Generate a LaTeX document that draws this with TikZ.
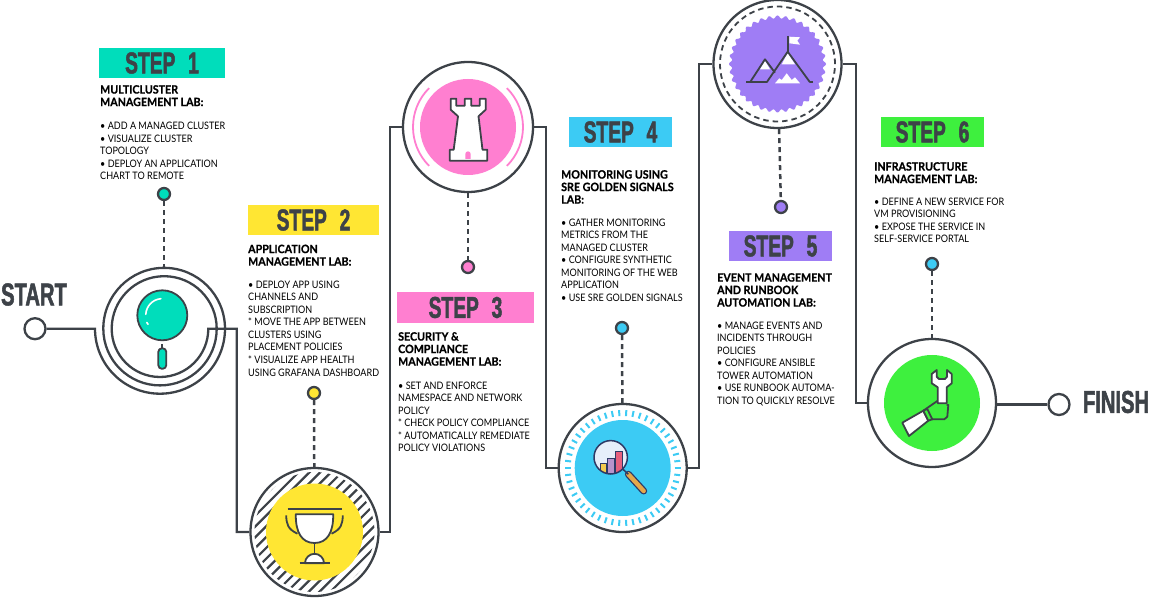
\documentclass[tikz,border=0pt]{standalone}
\usepackage{fontspec}
\setmainfont{Lato}
\newfontfamily\headfont[FakeStretch=0.64,WordSpace=2.4,BoldFeatures={FakeBold=1.6}]{Liberation Sans}
\newfontfamily\bodyfont[FakeStretch=0.88]{Lato}
\newfontfamily\labfont[FakeStretch=0.93,BoldFeatures={FakeBold=0.7}]{Lato}
\definecolor{ink}{HTML}{3D4248}
\definecolor{tealc}{HTML}{00DDBB}
\definecolor{yellowc}{HTML}{FFE633}
\definecolor{pinkc}{HTML}{FF7FD0}
\definecolor{cyanc}{HTML}{3CCBF4}
\definecolor{purplec}{HTML}{9F7DF5}
\definecolor{greenc}{HTML}{3EF03E}
\definecolor{navyc}{HTML}{2E3A66}
\definecolor{glassc}{HTML}{E6EEFA}
\definecolor{barone}{HTML}{F3CB4F}
\definecolor{bartwo}{HTML}{B893CC}
\definecolor{barthree}{HTML}{E65F7E}
\definecolor{grip}{HTML}{E5A84B}
\tikzset{
	route/.style={ink, line width=2.3pt},
	dashline/.style={ink, line width=2.5pt, dash pattern=on 5pt off 4pt},
	icon/.style={ink, line width=1.8pt, line join=round},
	ring/.style={circle, draw=ink, line width=2.3pt, fill=white, inner sep=0pt, minimum size=128pt},
	dot/.style={circle, draw=ink, line width=2.3pt, fill=#1, inner sep=0pt, minimum size=12pt},
	endpoint/.style={circle, draw=ink, line width=2.3pt, fill=white, inner sep=0pt, minimum size=21pt},
	stepbox/.style={fill=#1, inner sep=0pt, minimum height=30pt, text=ink, font=\headfont\bfseries\fontsize{30}{30}\selectfont},
	bigword/.style={text=ink, inner sep=0pt, font=\headfont\bfseries\fontsize{31.5}{32}\selectfont},
	labhead/.style={anchor=north west, align=left, inner sep=0pt, text=black, font=\labfont\bfseries\fontsize{11.5}{12.5}\selectfont},
	labtext/.style={anchor=north west, align=left, inner sep=0pt, text=black, font=\bodyfont\fontsize{10.3}{12.55}\selectfont},
}
\begin{document}
\begin{tikzpicture}[x=1pt,y=1pt]
	\useasboundingbox (0,0) rectangle (1152,598);

	% rings
	\node [endpoint] (start) at (35,269.3){};
	\node [circle, inner sep=0pt, minimum size=124pt] (ring1) at (164,269){};
	\node [ring] (ring2) at (314.5,66){};
	\node [ring, minimum size=130pt] (ring3) at (468,471){};
	\node [ring] (ring4) at (622.7,130){};
	\node [ring] (ring5) at (777.5,534){};
	\node [ring] (ring6) at (932,195){};
	\node [endpoint] (finish) at (1059,193.5){};

	% route
	\coordinate (bend12) at (236.7,170);
	\coordinate (bend23) at (390,270);
	\coordinate (bend34) at (546,300);
	\coordinate (bend45) at (699,300);
	\coordinate (bend56) at (856,300);
	\draw [route] (start.east) -- (95,269.3) arc [start angle=180, end angle=360, radius=65]
		arc [start angle=0, end angle=180, radius=60.85]
		arc [start angle=180, end angle=360, radius=56.7]
		arc [start angle=0, end angle=180, radius=52.5]
		arc [start angle=180, end angle=360, radius=48.3] -- (236.7,269.3) -- (bend12) |- (ring2.west);
	\draw [route] (ring2.east) -| (bend23) |- (ring3.west);
	\draw [route] (ring3.east) -| (bend34) |- (ring4.west);
	\draw [route] (ring4.east) -| (bend45) |- (ring5.west);
	\draw [route] (ring5.east) -| (bend56) |- (ring6.west);
	\draw [route] (finish.west) -- (finish.west -| ring6.east);

	% dots
	\node [dot=tealc] (dot1) at (164,404){};
	\node [dot=yellowc] (dot2) at (314,205){};
	\node [dot=pinkc] (dot3) at (468,331){};
	\node [dot=cyanc] (dot4) at (622,270){};
	\node [dot=purplec] (dot5) at (781,391){};
	\node [dot=cyanc] (dot6) at (932,334){};
	\draw [dashline] (dot1) -- (ring1);
	\draw [dashline] (dot2) -- (ring2);
	\draw [dashline] (ring3) -- (dot3);
	\draw [dashline] (dot4) -- (ring4);
	\draw [dashline] (ring5) -- (dot5);
	\draw [dashline] (dot6) -- (ring6);

	% step 1 magnifier
	\begin{scope}[shift={(162.3,282.7)}]
		\draw [icon, fill=tealc] (0,0) circle [radius=25];
		\draw [white, line width=1.6pt, line cap=round] (-16.5,1) arc [start angle=177, end angle=95, radius=16.5];
		\draw [white, line width=1.6pt, line cap=round] (-15.5,-7.2) -- (-14.2,-9);
		\draw [icon] (0,-28.5) -- (0,-33);
		\draw [icon, fill=tealc, rounded corners=3.6pt] (-4,-33) rectangle (4,-53.5);
	\end{scope}

	% step 2 trophy
	\begin{scope}[shift={(314.5,66)}]
		\begin{scope}
			\clip (0,0) circle [radius=60];
			\foreach \k in {-9,...,9}
				\draw [ink, line width=2.2pt] (-70,-70+\k*10.8) -- (70,70+\k*10.8);
		\end{scope}
		\fill [yellowc] (0,0) circle [radius=48.5];
		\draw [icon] (-27,23.3) -- (27,23.3);
		\draw [icon, fill=white] (-18.7,17.7) -- (18.7,17.7) .. controls (19,0) and (13,-11) .. (0,-11) .. controls (-13,-11) and (-19,0) .. (-18.7,17.7) -- cycle;
		\draw [icon] (-28.3,16.7) .. controls (-28,8) and (-27,3) .. (-17,-1.7);
		\draw [icon] (28.3,16.7) .. controls (28,8) and (27,3) .. (17,-1.7);
		\draw [icon] (0,-11) -- (0,-22);
		\draw [icon, fill=white] (-9.5,-31.3) arc [start angle=180, end angle=0, radius=9.5] -- cycle;
		\draw [icon] (-15,-31.3) -- (15,-31.3);
	\end{scope}

	% step 3 tower
	\begin{scope}[shift={(468,471)}]
		\fill [pinkc] (0,0) circle [radius=48];
		\draw [pinkc, line width=1.8pt] (135:55) arc [start angle=135, end angle=225, radius=55];
		\draw [pinkc, line width=1.8pt] (-45:55) arc [start angle=-45, end angle=45, radius=55];
		\draw [icon, fill=white] (-17.3,28.3) -- (-11.7,28.3) -- (-11.7,21.3) -- (-3.3,21.3) -- (-3.3,28.3) -- (3.3,28.3) -- (3.3,21.3)
			-- (11.7,21.3) -- (11.7,28.3) -- (17.7,28.3) -- (17.7,17.3) -- (10.5,10.7) -- (14.5,-22.7) -- (19.3,-22.7) -- (19.3,-33.7)
			-- (-18.3,-33.7) -- (-18.3,-22.7) -- (-14.3,-22.7) -- (-10,10.7) -- (-17.3,17.3) -- cycle;
		\fill [pinkc] (-2.7,-32) -- (-2.7,-27) arc [start angle=180, end angle=0, radius=2.7] -- (2.7,-32) -- cycle;
	\end{scope}

	% step 4 lens
	\begin{scope}[shift={(622.7,130)}]
		\foreach \a in {0,7.2,...,359}
			\draw [cyanc, line width=2pt] (\a:52) -- (\a:58);
		\fill [cyanc] (0,0) circle [radius=48];
		\draw [navyc, line width=7pt, line cap=round] (5.7,-6.3) -- (21,-23);
		\draw [grip, line width=4.4pt, line cap=round] (5.7,-6.3) -- (21,-23);
		\draw [navyc, line width=1.5pt] (0,-1) -- (5.7,-6.3);
		\fill [glassc] (-12,10.7) circle [radius=16.7];
		\begin{scope}
			\clip (-12,10.7) circle [radius=16.7];
			\draw [navyc, line width=1pt, fill=barone] (-22.7,4.7) rectangle (-16.7,-9);
			\draw [navyc, line width=1pt, fill=bartwo] (-15.3,9.7) rectangle (-8.7,-9);
			\draw [navyc, line width=1pt, fill=barthree] (-7.7,16.3) rectangle (-0.3,-9);
		\end{scope}
		\draw [navyc, line width=1.5pt] (-12,10.7) circle [radius=16.7];
	\end{scope}

	% step 5 mountain
	\begin{scope}[shift={(777.5,534)}]
		\draw [ink, line width=1.8pt, dash pattern=on 5.5pt off 4pt] (0,0) circle [radius=57.5];
		\fill [purplec] plot [domain=0:360, samples=361] (\x:{47+1.5*cos(36*\x)}) -- cycle;
		\fill [white] (11.8,27.3) -- (22.5,26.7) -- (19.8,23.3) -- (22.5,19.3) -- (11.8,20.7) -- cycle;
		\fill [white] (10.2,11) -- (4.2,-0.3) -- (17.5,-0.3) -- cycle;
		\fill [white] (-12.5,3.3) -- (-17.5,-5.3) -- (-7.5,-5.3) -- cycle;
		\fill [white] (-2.5,-19.3) -- (1.8,-14.3) -- (4.2,-16) -- (9.2,-9.3) -- (14.2,-16) -- (17.5,-13.3) -- (22.5,-19.3) -- cycle;
		\draw [icon] (10.2,28) -- (10.2,12.3);
		\draw [icon] (-10.8,-18.3) -- (10.2,12.3) -- (32.5,-18.3);
		\draw [icon] (-27.5,-18.3) -- (-12.5,4.7) -- (-2.5,-8.7);
		\draw [icon] (-31.5,-18.3) -- (-10.8,-18.3);
		\draw [icon] (32,-18.3) -- (35,-18.3);
	\end{scope}

	% step 6 wrench
	\begin{scope}[shift={(932,195)}]
		\fill [greenc] (0,0) circle [radius=48];
		\draw [icon] (5.7,2.3) -- (-8.7,-7.7);
		\draw [icon] (14.7,-2) -- (16.3,-2) -- (15.3,-13.7) -- (12.3,-16.3) -- (0,-16.3);
		\draw [icon, fill=white] (5.7,-0.3) -- (5.7,15.7) -- (-0.3,19.7) -- (-0.3,29) -- (4.7,33) -- (4.7,26.3) -- (7,24) -- (13,24) -- (15,26.3)
			-- (15,33) -- (19.7,29) -- (19.7,19.7) -- (14.7,15.7) -- (14.7,-0.3) -- cycle;
		\draw [icon, fill=white] (-29.7,-19.7) -- (-8.7,-7.7) -- (-3.7,-17.7) -- (-23,-33) -- cycle;
		\draw [icon, fill=greenc] (-8.7,-7.7) -- (-4.7,-6) -- (0.3,-16.3) -- (-3.7,-17.7) -- cycle;
	\end{scope}

	% label
	\node [bigword] (startword) at (34,303.5){START};
	\node [bigword] (finishword) at (1116,196){FINISH};
	\node [stepbox=tealc, minimum width=126pt] (step1) at (162,535){STEP 1};
	\node [stepbox=yellowc, minimum width=131pt] (step2) at (313.5,378){STEP 2};
	\node [stepbox=pinkc, minimum width=137pt, minimum height=31pt] (step3) at (465.5,290.5){STEP 3};
	\node [stepbox=cyanc, minimum width=103pt] (step4) at (620.5,466){STEP 4};
	\node [stepbox=purplec, minimum width=103pt] (step5) at (780.5,352){STEP 5};
	\node [stepbox=greenc, minimum width=103pt] (step6) at (932.5,466){STEP 6};

	\node [labhead] (head1) at (100,513){MULTICLUSTER\\MANAGEMENT LAB:};
	\node [labtext] (text1) at (100,476){• ADD A MANAGED CLUSTER\\• VISUALIZE CLUSTER\\TOPOLOGY\\• DEPLOY AN APPLICATION\\CHART TO REMOTE};

	\node [labhead] (head2) at (248,353.5){APPLICATION\\MANAGEMENT LAB:};
	\node [labtext] (text2) at (248,317.5){• DEPLOY APP USING\\CHANNELS AND\\SUBSCRIPTION\\* MOVE THE APP BETWEEN\\CLUSTERS USING\\PLACEMENT POLICIES\\* VISUALIZE APP HEALTH\\USING GRAFANA DASHBOARD};

	\node [labhead] (head3) at (398,266){SECURITY \&\\COMPLIANCE\\MANAGEMENT LAB:};
	\node [labtext] (text3) at (398,216.5){• SET AND ENFORCE\\NAMESPACE AND NETWORK\\POLICY\\* CHECK POLICY COMPLIANCE\\* AUTOMATICALLY REMEDIATE\\POLICY VIOLATIONS};

	\node [labhead] (head4) at (561,428){MONITORING USING\\SRE GOLDEN SIGNALS\\LAB:};
	\node [labtext] (text4) at (561,379.5){• GATHER MONITORING\\METRICS FROM THE\\MANAGED CLUSTER\\• CONFIGURE SYNTHETIC\\MONITORING OF THE WEB\\APPLICATION\\• USE SRE GOLDEN SIGNALS};

	\node [labhead] (head5) at (717,325){EVENT MANAGEMENT\\AND RUNBOOK\\AUTOMATION LAB:};
	\node [labtext] (text5) at (717,276.5){• MANAGE EVENTS AND\\INCIDENTS THROUGH\\POLICIES\\• CONFIGURE ANSIBLE\\TOWER AUTOMATION\\• USE RUNBOOK AUTOMA-\\TION TO QUICKLY RESOLVE};

	\node [labhead] (head6) at (874,436){INFRASTRUCTURE\\MANAGEMENT LAB:};
	\node [labtext] (text6) at (874,400.5){• DEFINE A NEW SERVICE FOR\\VM PROVISIONING\\• EXPOSE THE SERVICE IN\\SELF-SERVICE PORTAL};
\end{tikzpicture}
\end{document}
